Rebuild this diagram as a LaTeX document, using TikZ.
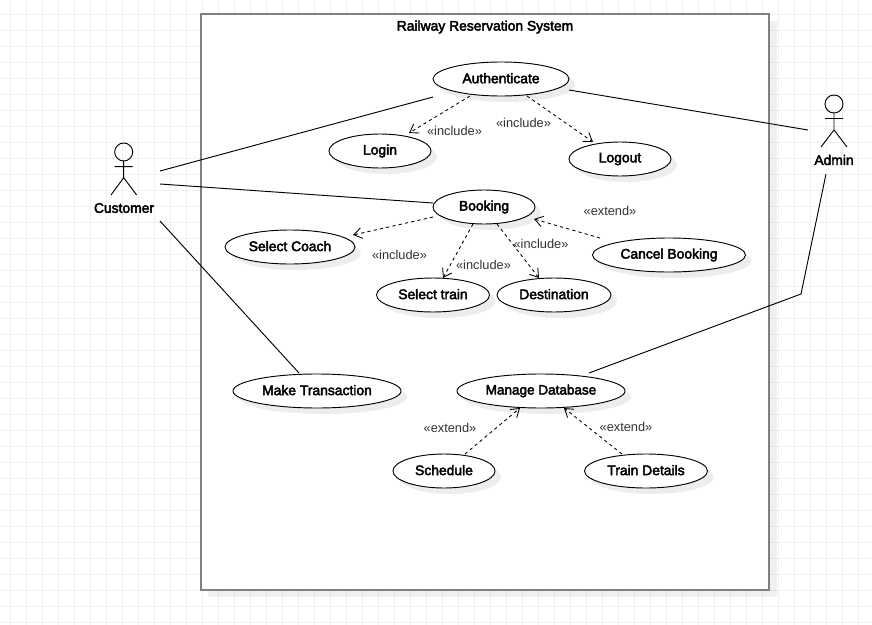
\documentclass[tikz,border=0pt]{standalone}
\usepackage{fontspec}
\setmainfont{Liberation Sans}
\newfontfamily\heavyfont{Liberation Sans}[FakeBold=3]
\usetikzlibrary{arrows.meta,shadows,shapes.geometric}
\definecolor{gridc}{HTML}{F0F0F0}
\definecolor{framec}{HTML}{808080}
\definecolor{labelc}{HTML}{333333}
\tikzset{
  usecase/.style={ellipse,draw=black,fill=white,line width=0.7pt,inner sep=0pt,minimum height=25.5pt,font=\fontsize{10.4pt}{12pt}\heavyfont,text=black,
    drop shadow={shadow xshift=4.5pt,shadow yshift=-4.5pt,opacity=0.07,fill=black}},
  assoc/.style={draw=black,line width=0.7pt},
  dep/.style={draw=black,line width=0.65pt,dash pattern=on 2.4pt off 2.4pt,-{Straight Barb[length=6pt,width=8pt,line width=0.65pt]}},
  stereo/.style={font=\fontsize{9.6pt}{11pt}\selectfont,text=labelc,inner sep=0pt},
  actorlabel/.style={font=\fontsize{10.4pt}{12pt}\heavyfont,text=black,inner sep=0pt},
  figure/.style={draw=black,line width=0.7pt},
  actorbox/.style={inner sep=0pt,minimum width=19.5pt,minimum height=39pt}
}
\begin{document}
\begin{tikzpicture}[x=0.75pt,y=-0.75pt]
\useasboundingbox (0,0) rectangle (872,625);
\fill[white] (0,0) rectangle (872,625);
\foreach \gx in {10,26,...,874} {\draw[gridc,line width=0.75pt] (\gx,0) -- (\gx,625);}
\foreach \gy in {14,30,...,625} {\draw[gridc,line width=0.75pt] (0,\gy) -- (872,\gy);}
% system boundary
\fill[black,opacity=0.06] (208,21) rectangle (777,597);
\node[draw=framec,fill=white,line width=1.5pt,minimum width=426pt,minimum height=432pt,inner sep=0pt,outer sep=0pt] (system) at (485,302) {};
\node[font=\fontsize{10.4pt}{12pt}\heavyfont,text=black,inner sep=0pt] (title) at (485,27) {Railway Reservation System};
% use cases
\node[usecase,minimum width=102pt] (auth) at (501,79) {\raisebox{1.2pt}{Authenticate}};
\node[usecase,minimum width=76.5pt] (login) at (380,151) {\raisebox{-0.2pt}{Login}};
\node[usecase,minimum width=76.5pt] (logout) at (620,159) {\raisebox{-1pt}{Logout}};
\node[usecase,minimum width=76.5pt] (booking) at (484,207) {\raisebox{-0.2pt}{Booking}};
\node[usecase,minimum width=97.5pt] (coach) at (290,247) {\raisebox{1.4pt}{Select Coach}};
\node[usecase,minimum width=84.75pt] (train) at (433,295) {\raisebox{1.4pt}{Select train}};
\node[usecase,minimum width=85.5pt] (dest) at (554,295) {\raisebox{1.4pt}{Destination}};
\node[usecase,minimum width=114.75pt] (cancel) at (669,255) {\raisebox{-0.2pt}{Cancel Booking}};
\node[usecase,minimum width=126pt] (trans) at (317,391) {\raisebox{1.4pt}{Make Transaction}};
\node[usecase,minimum width=126pt,font=\fontsize{10.15pt}{12pt}\heavyfont] (manage) at (541,391) {\raisebox{-0.2pt}{Manage Database}};
\node[usecase,minimum width=76.5pt] (sched) at (444,471) {\raisebox{1.4pt}{Schedule}};
\node[usecase,minimum width=92.25pt] (details) at (646,471) {\raisebox{1.4pt}{Train Details}};
% actors
\node[actorbox] (customer) at (124,168) {};
\draw[figure] (123.7,152) circle (9);
\draw[figure] (123.7,161) -- (123.7,177.7) (114.7,166.7) -- (132.7,166.7) (111,195) -- (123.7,177.7) -- (136.7,195);
\node[actorlabel] (customerlabel) at (124,208) {Customer};
\node[actorbox] (admin) at (834,120) {};
\draw[figure] (834,104) circle (9);
\draw[figure] (834,113) -- (834,130) (825,118.5) -- (843,118.5) (821,147) -- (834,130) -- (847,147);
\node[actorlabel] (adminlabel) at (834,160) {Admin};
% associations
\draw[assoc] ([shift={(36,3)}]customer.center) -- ([shift={(-68,18)}]auth.center);
\draw[assoc] ([shift={(36,16)}]customer.center) -- ([shift={(-51,-4)}]booking.center);
\draw[assoc] ([shift={(36,53)}]customer.center) -- ([shift={(-18,-18)}]trans.center);
\draw[assoc] ([shift={(68,11)}]auth.center) -- ([shift={(-26,10)}]admin.center);
\coordinate (bend) at (801,294);
\draw[assoc] ([shift={(-8,54)}]admin.center) -- (bend) -- ([shift={(48,-18)}]manage.center);
% dependencies
\draw[dep] ([shift={(-31,17)}]auth.center) -- ([shift={(29,-18)}]login.center);
\draw[dep] ([shift={(26,17)}]auth.center) -- ([shift={(-27,-17)}]logout.center);
\draw[dep] ([shift={(-51,10)}]booking.center) -- ([shift={(63,-12)}]coach.center);
\draw[dep] ([shift={(-11,17)}]booking.center) -- ([shift={(10,-17)}]train.center);
\draw[dep] ([shift={(13,17)}]booking.center) -- ([shift={(-15,-17)}]dest.center);
\draw[dep] ([shift={(-69,-17)}]cancel.center) -- ([shift={(50,12)}]booking.center);
\draw[dep] ([shift={(21,-17)}]sched.center) -- ([shift={(-21,17)}]manage.center);
\draw[dep] ([shift={(-24,-17)}]details.center) -- ([shift={(23,17)}]manage.center);
% stereotypes
\node[stereo] (s1) at (454.5,131) {«include»};
\node[stereo] (s2) at (523.5,123) {«include»};
\node[stereo] (s3) at (399.5,255) {«include»};
\node[stereo] (s4) at (483.5,265) {«include»};
\node[stereo] (s5) at (541,244) {«include»};
\node[stereo] (s6) at (610,211) {«extend»};
\node[stereo] (s7) at (450,428) {«extend»};
\node[stereo] (s8) at (626,427) {«extend»};
\end{tikzpicture}
\end{document}
